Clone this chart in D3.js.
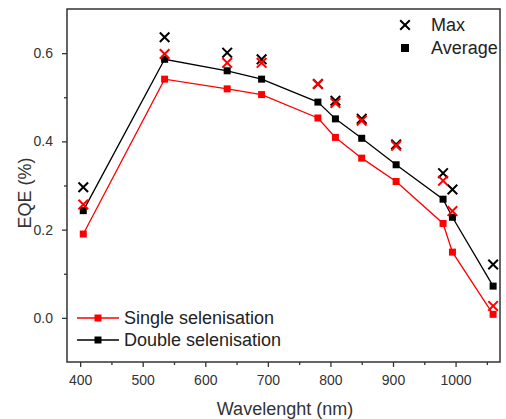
<!DOCTYPE html>
<html>
<head>
<meta charset="utf-8">
<script src="https://cdn.jsdelivr.net/npm/d3@7"></script>
<style>
  body { margin: 0; background: #fff; }
  svg { font-family: Arial, "Liberation Sans", sans-serif; }
</style>
</head>
<body>
<div id="chart"></div>
<script>
// wavelengths (nm)
const wavelengths = [405, 535, 635, 690, 780, 808, 850, 905, 980, 995, 1060];

// EQE (%)
const singleAvg = [0.190, 0.541, 0.519, 0.506, 0.453, 0.409, 0.362, 0.309, 0.214, 0.149, 0.008];
const doubleAvg = [0.243, 0.586, 0.560, 0.541, 0.489, 0.451, 0.407, 0.347, 0.269, 0.228, 0.072];
const singleMax = [0.257, 0.598, 0.578, 0.578, 0.530, 0.487, 0.447, 0.390, 0.311, 0.242, 0.027];
const doubleMax = [0.296, 0.636, 0.601, 0.586, 0.530, 0.492, 0.451, 0.393, 0.328, 0.291, 0.121];

const xMajor = [400, 500, 600, 700, 800, 900, 1000];
const xMinor = [450, 550, 650, 750, 850, 950, 1050];
const yMajor = [0.0, 0.2, 0.4, 0.6];
const yMinor = [0.1, 0.3, 0.5];

const series = [
    { name: "Double selenisation", avg: doubleAvg, max: doubleMax, color: "#000000" },
    { name: "Single selenisation", avg: singleAvg, max: singleMax, color: "#ff0000" }
];

const width = 506, height = 419;
const margin = { top: 9, right: 6, bottom: 57, left: 67 };
const innerW = width - margin.left - margin.right;
const innerH = height - margin.top - margin.bottom;

const svg = d3.select("#chart").append("svg")
    .attr("width", width)
    .attr("height", height);

const g = svg.append("g")
    .attr("transform", `translate(${margin.left},${margin.top})`);

const x = d3.scaleLinear().domain([379, 1071]).range([0, innerW]);
const y = d3.scaleLinear().domain([-0.1, 0.7]).range([innerH, 0]);

// axes
g.append("g")
    .attr("transform", `translate(0,${innerH})`)
    .call(d3.axisBottom(x).tickValues(xMajor).tickSize(5).tickPadding(8)
        .tickFormat(d3.format("d")).tickSizeOuter(0));
g.append("g")
    .attr("transform", `translate(0,${innerH})`)
    .call(d3.axisBottom(x).tickValues(xMinor).tickSize(3).tickFormat("").tickSizeOuter(0));

g.append("g")
    .call(d3.axisLeft(y).tickValues(yMajor).tickSize(5).tickPadding(9)
        .tickFormat(d3.format(".1f")).tickSizeOuter(0));
g.append("g")
    .call(d3.axisLeft(y).tickValues(yMinor).tickSize(3).tickFormat("").tickSizeOuter(0));

g.selectAll(".domain").remove();
g.selectAll(".tick line").attr("stroke", "#333").attr("stroke-width", 1.3);
g.selectAll(".tick text").attr("font-size", "14px").attr("fill", "#333")
    .attr("font-family", "Arial, 'Liberation Sans', sans-serif");

// frame
g.append("rect")
    .attr("width", innerW)
    .attr("height", innerH)
    .attr("fill", "none")
    .attr("stroke", "#333")
    .attr("stroke-width", 1.5);

// axis titles
svg.append("text")
    .attr("x", 285)
    .attr("y", 415)
    .attr("text-anchor", "middle")
    .attr("font-size", "18px")
    .attr("fill", "#333")
    .text("Wavelenght (nm)");

svg.append("text")
    .attr("transform", "translate(31,193) rotate(-90)")
    .attr("text-anchor", "middle")
    .attr("font-size", "18px")
    .attr("fill", "#333")
    .text("EQE (%)");

const line = d3.line()
    .x(d => x(d[0]))
    .y(d => y(d[1]));

const sq = 7;

// average lines and squares
series.forEach(s => {
    const pts = wavelengths.map((w, i) => [w, s.avg[i]]);
    g.append("path")
        .datum(pts)
        .attr("fill", "none")
        .attr("stroke", s.color)
        .attr("stroke-width", 1.3)
        .attr("d", line);
    g.selectAll(null)
        .data(pts)
        .enter()
        .append("rect")
        .attr("x", d => x(d[0]) - sq / 2)
        .attr("y", d => y(d[1]) - sq / 2)
        .attr("width", sq)
        .attr("height", sq)
        .attr("fill", s.color);
});

// max crosses
function cross(sel, cx, cy, r, color) {
    sel.append("path")
        .attr("d", `M${cx - r},${cy - r}L${cx + r},${cy + r}M${cx - r},${cy + r}L${cx + r},${cy - r}`)
        .attr("stroke", color)
        .attr("stroke-width", 2)
        .attr("fill", "none");
}

series.forEach(s => {
    wavelengths.forEach((w, i) => {
        cross(g, x(w), y(s.max[i]), 4.8, s.color);
    });
});

// legend top right
const legTop = svg.append("g");
cross(legTop, 405, 25, 4.8, "#000");
legTop.append("text")
    .attr("x", 431)
    .attr("y", 31)
    .attr("font-size", "18px")
    .attr("fill", "#222")
    .text("Max");
legTop.append("rect")
    .attr("x", 405 - 4)
    .attr("y", 48 - 4)
    .attr("width", 8)
    .attr("height", 8)
    .attr("fill", "#000");
legTop.append("text")
    .attr("x", 431)
    .attr("y", 54)
    .attr("font-size", "18px")
    .attr("fill", "#222")
    .text("Average");

// legend bottom left
const legBottom = svg.append("g");
const legItems = [series[1], series[0]];
legItems.forEach((s, i) => {
    const ly = 318 + i * 22;
    legBottom.append("line")
        .attr("x1", 77)
        .attr("x2", 119)
        .attr("y1", ly)
        .attr("y2", ly)
        .attr("stroke", s.color)
        .attr("stroke-width", 1.3);
    legBottom.append("rect")
        .attr("x", 98 - sq / 2)
        .attr("y", ly - sq / 2)
        .attr("width", sq)
        .attr("height", sq)
        .attr("fill", s.color);
    legBottom.append("text")
        .attr("x", 124)
        .attr("y", ly + 6)
        .attr("font-size", "18px")
        .attr("fill", "#222")
        .text(s.name);
});
</script>
</body>
</html>
